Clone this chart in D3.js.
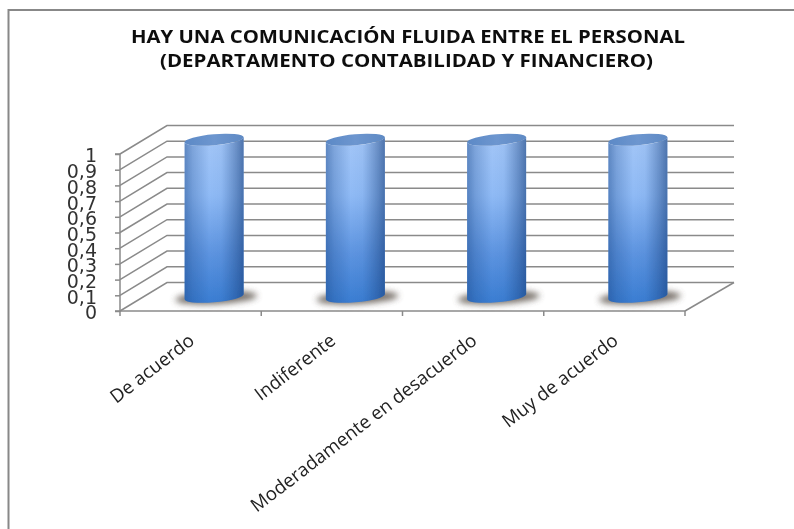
<!DOCTYPE html>
<html><head><meta charset="utf-8">
<style>html,body{margin:0;padding:0;background:#fff}svg{display:block}</style>
<script src="https://cdn.jsdelivr.net/npm/d3@7/dist/d3.min.js"></script>
</head><body><svg id="c" width="794" height="529"></svg>
<script>
const titleLines = ["HAY UNA COMUNICACIÓN FLUIDA ENTRE EL PERSONAL","(DEPARTAMENTO CONTABILIDAD Y FINANCIERO)"];
const categories = ["De acuerdo","Indiferente","Moderadamente en desacuerdo","Muy de acuerdo"];
const values = [1,1,1,1];
const tickValues = [0,0.1,0.2,0.3,0.4,0.5,0.6,0.7,0.8,0.9,1];
const tickLabels = ["0","0,1","0,2","0,3","0,4","0,5","0,6","0,7","0,8","0,9","1"];

const svg = d3.select("#c");
const defs = svg.append("defs");
const W = 794, H = 529;
const x = d3.scaleBand().domain(categories).range([120,685]).paddingInner(0).paddingOuter(0);
const y = d3.scaleLinear().domain([0,1]).range([311,154]);
const depthX = 47, depthY = 28.5;
const grid = "#8a8a8a";

const soft = defs.append("filter").attr("id","soft").attr("filterUnits","userSpaceOnUse")
 .attr("x",0).attr("y",0).attr("width",W).attr("height",H);
soft.append("feGaussianBlur").attr("stdDeviation",0.45);
const shadowBlur = defs.append("filter").attr("id","sb").attr("x","-30%").attr("y","-80%").attr("width","160%").attr("height","260%");
shadowBlur.append("feGaussianBlur").attr("stdDeviation",3);

const vg = defs.append("linearGradient").attr("id","bodyV").attr("x1",0).attr("x2",0).attr("y1",0).attr("y2",1);
[[0,"#a3c6f7"],[0.35,"#8fbaf5"],[0.7,"#5d94e0"],[1,"#3a7dd2"]].forEach(s=>vg.append("stop").attr("offset",s[0]).attr("stop-color",s[1]));
const hg = defs.append("linearGradient").attr("id","bodyH").attr("x1",0).attr("x2",1).attr("y1",0).attr("y2",0);
[[0,"#1c4a8c",0.5],[0.14,"#1c4a8c",0.26],[0.42,"#1c4a8c",0],[0.62,"#1c4a8c",0.04],[0.88,"#173f7c",0.4],[1,"#173f7c",0.6]]
 .forEach(s=>hg.append("stop").attr("offset",s[0]).attr("stop-color",s[1]).attr("stop-opacity",s[2]));
const tg = defs.append("linearGradient").attr("id","top").attr("x1",0).attr("x2",1).attr("y1",0).attr("y2",0);
[[0,"#5c89c6"],[0.5,"#6d96cf"],[1,"#5f8ac4"]].forEach(s=>tg.append("stop").attr("offset",s[0]).attr("stop-color",s[1]));

const root = svg.append("g").attr("filter","url(#soft)");

// frame
root.append("path").attr("d",`M${W},10H8.5V${H}`).attr("fill","none").attr("stroke","#888").attr("stroke-width",2);

// title
const titleSpans = [[131,685,43],[160,653,67]];
root.selectAll("text.title").data(titleLines).join("text").attr("class","title")
 .attr("x",(d,i)=>titleSpans[i][0]).attr("y",(d,i)=>titleSpans[i][2])
 .attr("textLength",(d,i)=>titleSpans[i][1]-titleSpans[i][0]).attr("lengthAdjust","spacingAndGlyphs")
 .attr("font-family","'Open Sans',sans-serif").attr("font-weight",700).attr("font-size",17).attr("fill","#111")
 .text(d=>d);

// walls
const gridG = root.append("g").attr("fill","none").attr("stroke",grid).attr("stroke-width",1.5);
gridG.selectAll("path.wall").data(tickValues).join("path").attr("class","wall")
 .attr("d",t=>`M${x.range()[0]},${y(t)}L${x.range()[0]+depthX},${y(t)-depthY}H${x.range()[1]+depthX+2}`);
gridG.append("path").attr("d",`M${x.range()[1]},${y(0)}L${x.range()[1]+depthX+2},${y(0)-depthY}`);

// axes
const yAxis = d3.axisLeft(y).tickValues(tickValues).tickSize(5).tickPadding(18).tickFormat((d,i)=>tickLabels[i]);
const yG = root.append("g").attr("transform","translate(120,0)").call(yAxis);
yG.selectAll("path,line").attr("stroke",grid).attr("stroke-width",1.5);
yG.select("path").attr("d",`M-5,${y(1)}H0V${y(0)}H-5`);
yG.selectAll("text").attr("font-family","'DejaVu Sans',sans-serif").attr("font-size",19).attr("fill","#333").attr("dy","0.42em");

const xAxis = d3.axisBottom(x).tickSize(0).tickFormat("");
const xG = root.append("g").attr("transform",`translate(0,${y(0)})`).call(xAxis);
xG.selectAll("path").attr("stroke",grid).attr("stroke-width",1.5).attr("d",`M${x.range()[0]},0H${x.range()[1]}`);
xG.selectAll("line.bt").data(categories.concat(["_end"])).join("line").attr("class","bt")
 .attr("x1",(d,i)=>i<categories.length?x(d):x.range()[1]).attr("x2",(d,i)=>i<categories.length?x(d):x.range()[1])
 .attr("y1",0).attr("y2",5).attr("stroke",grid).attr("stroke-width",1.5);

// category labels
root.selectAll("text.cat").data(categories).join("text").attr("class","cat")
 .attr("text-anchor","end").attr("font-family","'Open Sans',sans-serif").attr("font-size",18.6).attr("fill","#222")
 .attr("transform",d=>`translate(${x(d)+x.bandwidth()/2+5},${y(0)+32}) rotate(-37.5)`)
 .text(d=>d);

// cylinders
const rx = 29.5, ry = 5.5, tilt = -5, off = depthX/2;
const bars = root.selectAll("g.bar").data(categories.map((c,i)=>({c,v:values[i]}))).join("g").attr("class","bar")
 .attr("transform",d=>`translate(${x(d.c)+x.bandwidth()/2+off},0)`);
const oy = depthY/2;
bars.append("ellipse").attr("cx",2).attr("cy",y(0)-oy+1).attr("rx",41).attr("ry",6.5)
 .attr("transform",d=>`rotate(-3 0 ${y(0)-oy})`)
 .attr("fill","#5f5650").attr("opacity",0.85).attr("filter","url(#sb)");
const bodyPath = d => {
 const t = y(d.v)-oy, b = y(0)-oy;
 return `M${-rx},${t+2.5}L${-rx},${b+2.5}A${rx},${ry} ${tilt} 0 0 ${rx},${b-2.5}L${rx},${t-2.5}A${rx},${ry} ${tilt} 0 1 ${-rx},${t+2.5}Z`;
};
bars.append("path").attr("d",bodyPath).attr("fill","url(#bodyV)");
bars.append("path").attr("d",bodyPath).attr("fill","url(#bodyH)");
bars.append("ellipse").attr("cx",0).attr("cy",d=>y(d.v)-oy).attr("rx",rx+0.2).attr("ry",ry)
 .attr("transform",d=>`rotate(${tilt} 0 ${y(d.v)-oy})`).attr("fill","url(#top)");
</script></body></html>
